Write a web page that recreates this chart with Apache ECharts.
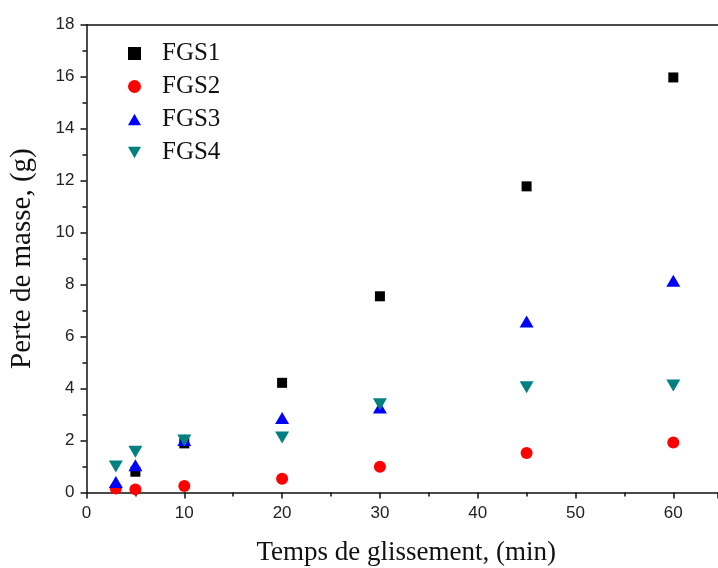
<!DOCTYPE html>
<html>
<head>
<meta charset="utf-8">
<script src="https://cdn.jsdelivr.net/npm/echarts@6/dist/echarts.min.js"></script>
<style>html,body{margin:0;padding:0;background:#fff}#c{width:718px;height:568px}</style>
</head>
<body>
<div id="c"></div>
<script>
var seriesNames = ['FGS1', 'FGS2', 'FGS3', 'FGS4'];
var fgs1X = [5, 10, 20, 30, 45, 60];
var fgs1Y = [0.8, 1.89, 4.22, 7.55, 11.78, 15.97];
var fgs2X = [3, 5, 10, 20, 30, 45, 60];
var fgs2Y = [0.15, 0.12, 0.25, 0.53, 0.99, 1.52, 1.92];
var fgs3X = [3, 5, 10, 20, 30, 45, 60];
var fgs3Y = [0.4, 1.05, 2.02, 2.87, 3.27, 6.58, 8.15];
var fgs4X = [3, 5, 10, 20, 30, 45, 60];
var fgs4Y = [1.0, 1.57, 2.0, 2.12, 3.4, 4.05, 4.12];
var xTicks = [0, 10, 20, 30, 40, 50, 60];
var yTicks = [0, 2, 4, 6, 8, 10, 12, 14, 16, 18];

function pairs(xs, ys) { return xs.map(function (x, i) { return [x, ys[i]]; }); }

var downTri = 'path://M0,0 L12,0 L6,10.4 Z';
var upTri = 'path://M6,0 L12,10.4 L0,10.4 Z';

var chart = echarts.init(document.getElementById('c'), null, { renderer: 'canvas' });
var labelFont = { fontFamily: 'Liberation Sans, Arial, sans-serif', fontSize: 17, color: '#222' };
var serif = 'Liberation Serif, Times New Roman, serif';
chart.setOption({
  animation: false,
  backgroundColor: '#fff',
  grid: { left: 86.5, top: 24.7, right: 0, height: 467.8, containLabel: false, outerBoundsMode: 'none' },
  legend: {
    orient: 'vertical', left: 123, top: 36, itemGap: 8,
    itemWidth: 13, itemHeight: 13,
    textStyle: { fontFamily: serif, fontSize: 25, color: '#111', padding: [0, 0, 0, 16] },
    data: [
      { name: 'FGS1', icon: 'rect' },
      { name: 'FGS2', icon: 'circle' },
      { name: 'FGS3', icon: upTri },
      { name: 'FGS4', icon: downTri }
    ]
  },
  xAxis: [{
    type: 'value', min: 0, max: 64.57, interval: 10,
    name: 'Temps de glissement, (min)', nameLocation: 'middle', nameGap: 47,
    nameTextStyle: { fontFamily: serif, fontSize: 27, color: '#111', padding: [0, 0, 0, 8] },
    axisLine: { show: true, onZero: false, lineStyle: { color: '#111', width: 1.5 } },
    axisTick: { show: true, inside: false, length: 6, lineStyle: { color: '#111', width: 1.5 } },
    minorTick: { show: true, splitNumber: 2, length: 4, lineStyle: { color: '#111', width: 1.5 } },
    splitLine: { show: false },
    axisLabel: Object.assign({ margin: 12, showMaxLabel: false, formatter: function (v) { return xTicks.indexOf(v) >= 0 ? String(v) : ''; } }, labelFont)
  }, {
    type: 'value', min: 0, max: 64.57, position: 'top',
    axisLine: { show: true, onZero: false, lineStyle: { color: '#111', width: 1.5 } },
    axisTick: { show: false }, axisLabel: { show: false }, splitLine: { show: false }
  }],
  yAxis: [{
    type: 'value', min: 0, max: 18, interval: 2,
    name: 'Perte de masse, (g)', nameLocation: 'middle', nameGap: 50, nameRotate: 90,
    nameTextStyle: { fontFamily: serif, fontSize: 29, color: '#111' },
    axisLine: { show: true, onZero: false, lineStyle: { color: '#111', width: 1.5 } },
    axisTick: { show: true, inside: false, length: 6, lineStyle: { color: '#111', width: 1.5 } },
    minorTick: { show: true, splitNumber: 2, length: 4, lineStyle: { color: '#111', width: 1.5 } },
    splitLine: { show: false },
    axisLabel: Object.assign({ margin: 12, formatter: function (v) { return yTicks.indexOf(v) >= 0 ? String(v) : ''; } }, labelFont)
  }],
  series: [
    { name: 'FGS1', type: 'scatter', symbol: 'rect', symbolSize: 10, itemStyle: { color: '#000', opacity: 1 }, data: pairs(fgs1X, fgs1Y) },
    { name: 'FGS2', type: 'scatter', symbol: 'circle', symbolSize: 12, itemStyle: { color: '#ff0000', opacity: 1 }, data: pairs(fgs2X, fgs2Y) },
    { name: 'FGS3', type: 'scatter', symbol: upTri, symbolSize: [14, 12], itemStyle: { color: '#0000ff', opacity: 1 }, data: pairs(fgs3X, fgs3Y) },
    { name: 'FGS4', type: 'scatter', symbol: downTri, symbolSize: [14, 12], itemStyle: { color: '#008080', opacity: 1 }, data: pairs(fgs4X, fgs4Y) }
  ]
});
</script>
</body>
</html>
